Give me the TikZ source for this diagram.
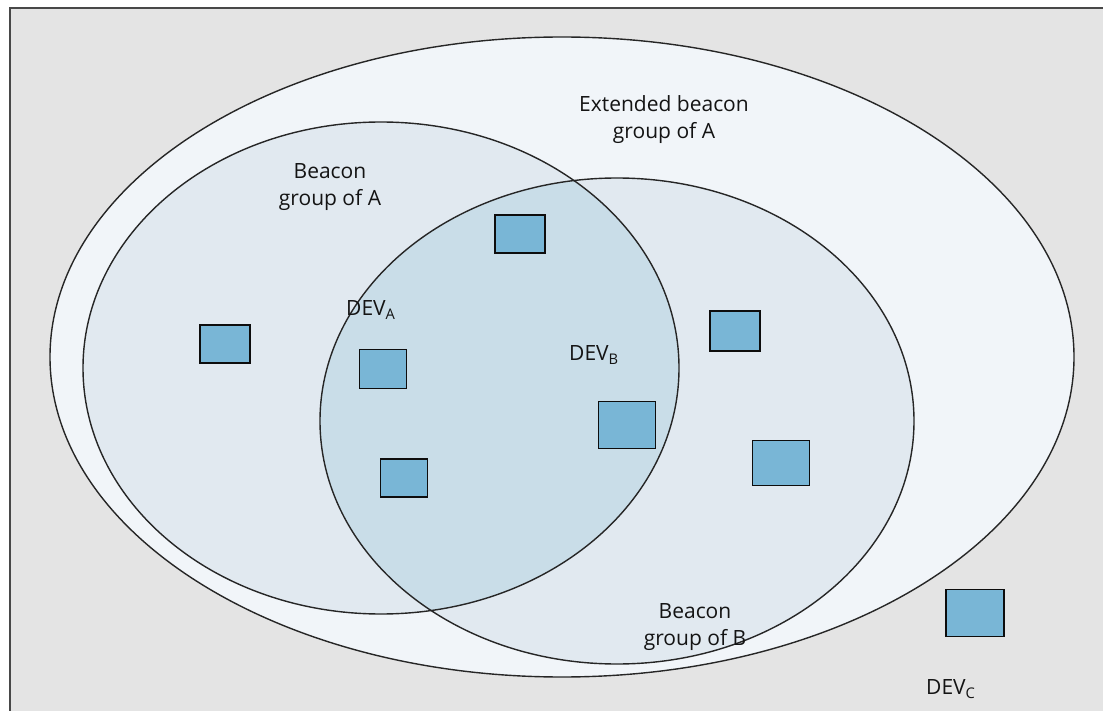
\documentclass[tikz,border=0pt]{standalone}
\usepackage{fontspec}
\setmainfont{Open Sans}
\begin{document}
\begin{tikzpicture}[x=1pt,y=-1pt,
  bg/.style={fill=bggray,draw=framegray,line width=2.2pt},
  zone/.style={draw=black!85,line width=1.4pt},
  dev/.style={draw=black!95,fill=devblue,line width=1.9pt,inner sep=0pt},
  lbl/.style={font=\fontsize{21}{27}\selectfont,align=center,text=black!92,inner sep=0pt}]
\definecolor{bggray}{HTML}{E4E4E4}
\definecolor{framegray}{HTML}{484848}
\definecolor{outerfill}{HTML}{F1F5F9}
\definecolor{groupfill}{HTML}{E1E9F0}
\definecolor{overlapfill}{HTML}{C9DDE8}
\definecolor{devblue}{HTML}{79B6D6}
\useasboundingbox (0,0) rectangle (1103,711);
\clip (0,0) rectangle (1103,711);
% background panel
\draw[bg] (10,8) rectangle (1120,730);
% extended beacon group
\fill[outerfill] (562,357) ellipse [x radius=512, y radius=320];
% beacon groups and their overlap
\fill[groupfill] (381,368) ellipse [x radius=298, y radius=246];
\fill[groupfill] (617,421) ellipse [x radius=297, y radius=243];
\begin{scope}
  \clip (381,368) ellipse [x radius=298, y radius=246];
  \fill[overlapfill] (617,421) ellipse [x radius=297, y radius=243];
\end{scope}
\draw[zone] (562,357) ellipse [x radius=512, y radius=320];
\draw[zone] (381,368) ellipse [x radius=298, y radius=246];
\draw[zone] (617,421) ellipse [x radius=297, y radius=243];
% devices
\node[dev,minimum width=50pt,minimum height=38pt] (d1) at (225,344) {};
\node[dev,minimum width=50pt,minimum height=38pt] (d2) at (520,234) {};
\node[dev,minimum width=47pt,minimum height=39pt] (devA) at (383,369) {};
\node[dev,minimum width=47pt,minimum height=38pt] (d4) at (404,478) {};
\node[dev,minimum width=57pt,minimum height=47pt] (devB) at (627,425) {};
\node[dev,minimum width=50pt,minimum height=40pt] (d6) at (735,331) {};
\node[dev,minimum width=57pt,minimum height=45pt] (d7) at (781,463) {};
\node[dev,minimum width=58pt,minimum height=47pt] (devC) at (975,613) {};
% labels
\node[lbl] (lext) at (664,120) {Extended beacon\\group of A};
\node[lbl] (lga) at (330,187) {Beacon\\group of A};
\node[lbl] (lgb) at (695,627) {Beacon\\group of B};
\node[lbl,anchor=west] (la) at (346,310) {DEV\textsubscript{A}};
\node[lbl,anchor=west] (lb) at (569,355) {DEV\textsubscript{B}};
\node[lbl,anchor=west] (lc) at (926,689) {DEV\textsubscript{C}};
\end{tikzpicture}
\end{document}
